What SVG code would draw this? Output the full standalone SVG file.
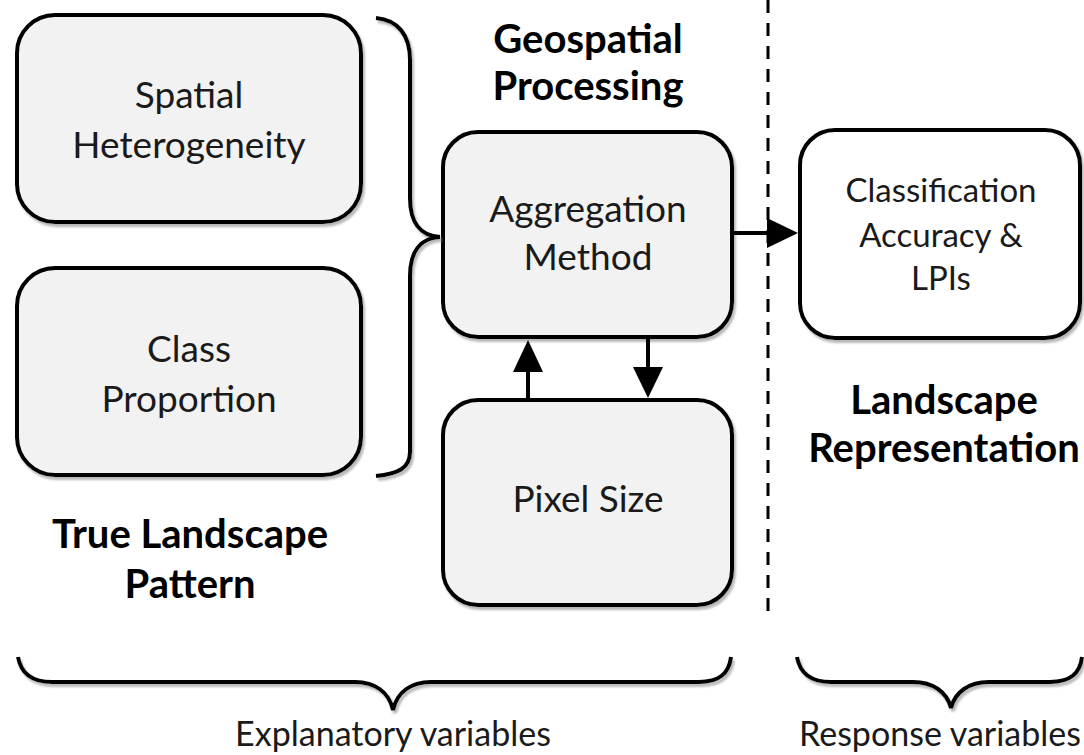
<svg xmlns="http://www.w3.org/2000/svg" width="1084" height="755" viewBox="0 0 1084 755">
<defs>
<filter id="sh" x="-5%" y="-5%" width="110%" height="115%">
<feDropShadow dx="2" dy="3" stdDeviation="1" flood-color="#888" flood-opacity="0.6"/>
</filter>
</defs>
<style>
.box{fill:#f2f2f2;stroke:#000;stroke-width:4;filter:url(#sh)}
.wbox{fill:#fff;stroke:#000;stroke-width:4;filter:url(#sh)}
.t{font-family:Lato,"Liberation Sans",sans-serif;font-size:37px;fill:#1a1a1a;text-anchor:middle}
.ts{font-family:Lato,"Liberation Sans",sans-serif;font-size:33px;fill:#1a1a1a;text-anchor:middle}
.b{font-family:Lato,"Liberation Sans",sans-serif;font-size:40px;font-weight:bold;fill:#000;text-anchor:middle}
.lbl{font-family:Lato,"Liberation Sans",sans-serif;font-size:34px;fill:#1a1a1a;text-anchor:middle}
.brace{fill:none;stroke:#000;stroke-width:4;filter:url(#sh)}
.conn{fill:none;stroke:#000;stroke-width:4}
.head{fill:#000}
</style>
<rect width="1084" height="755" fill="#fff"/>

<g id="spatial-heterogeneity">
<rect class="box" x="17" y="15" width="344" height="207" rx="38"/>
<text class="t" x="189" y="108">Spatial</text>
<text class="t" x="189" y="158">Heterogeneity</text>
</g>

<g id="class-proportion">
<rect class="box" x="17" y="268" width="344" height="207" rx="38"/>
<text class="t" x="189" y="362">Class</text>
<text class="t" x="189" y="412">Proportion</text>
</g>

<g id="true-landscape-pattern">
<text class="b" x="190" y="548">True Landscape</text>
<text class="b" x="190" y="598">Pattern</text>
</g>

<g id="geospatial-processing">
<text class="b" x="588" y="53">Geospatial</text>
<text class="b" x="588" y="100">Processing</text>
</g>

<g id="aggregation-method">
<rect class="box" x="443" y="132" width="289" height="205" rx="35"/>
<text class="t" x="588" y="222">Aggregation</text>
<text class="t" x="588" y="270">Method</text>
</g>

<g id="pixel-size">
<rect class="box" x="443" y="400" width="289" height="205" rx="35"/>
<text class="t" x="588" y="512">Pixel Size</text>
</g>

<g id="classification-accuracy">
<rect class="wbox" x="800" y="130" width="280" height="208" rx="35"/>
<text class="ts" x="941" y="202">Classification</text>
<text class="ts" x="941" y="247">Accuracy &amp;</text>
<text class="ts" x="941" y="290">LPIs</text>
</g>

<g id="landscape-representation">
<text class="b" x="944" y="414">Landscape</text>
<text class="b" x="944" y="462">Representation</text>
</g>

<g id="explanatory-variables">
<text class="lbl" x="393" y="746">Explanatory variables</text>
</g>

<g id="response-variables">
<text class="lbl" x="940" y="746">Response variables</text>
</g>

<g id="connectors">
<line x1="768" y1="0" x2="768" y2="612" stroke="#000" stroke-width="3" stroke-dasharray="13 10"/>
<path class="brace" d="M376,18 C398,20 410,35 410,60 L410,198 C410,222 420,236 440,237 C420,238 410,252 410,276 L410,452 C410,468 398,474 376,476"/>
<path class="brace" d="M18,657 C21,674 32,682 52,682 L355,682 C375,682 389,692 393,710 C397,692 411,682 431,682 L699,682 C719,682 729,674 731,657"/>
<path class="brace" d="M797,657 C800,674 811,682 831,682 L913,682 C933,682 947,692 951,708 C955,692 969,682 989,682 L1050,682 C1070,682 1080,674 1082,657"/>
<line class="conn" x1="732" y1="233" x2="768" y2="233"/>
<path class="head" d="M767,218 L798,233 L767,248 z"/>
<line class="conn" x1="528" y1="400" x2="528" y2="370"/>
<path class="head" d="M513,372 L528,340 L543,372 z"/>
<line class="conn" x1="648" y1="337" x2="648" y2="369"/>
<path class="head" d="M633,367 L648,398 L663,367 z"/>
</g>
</svg>
